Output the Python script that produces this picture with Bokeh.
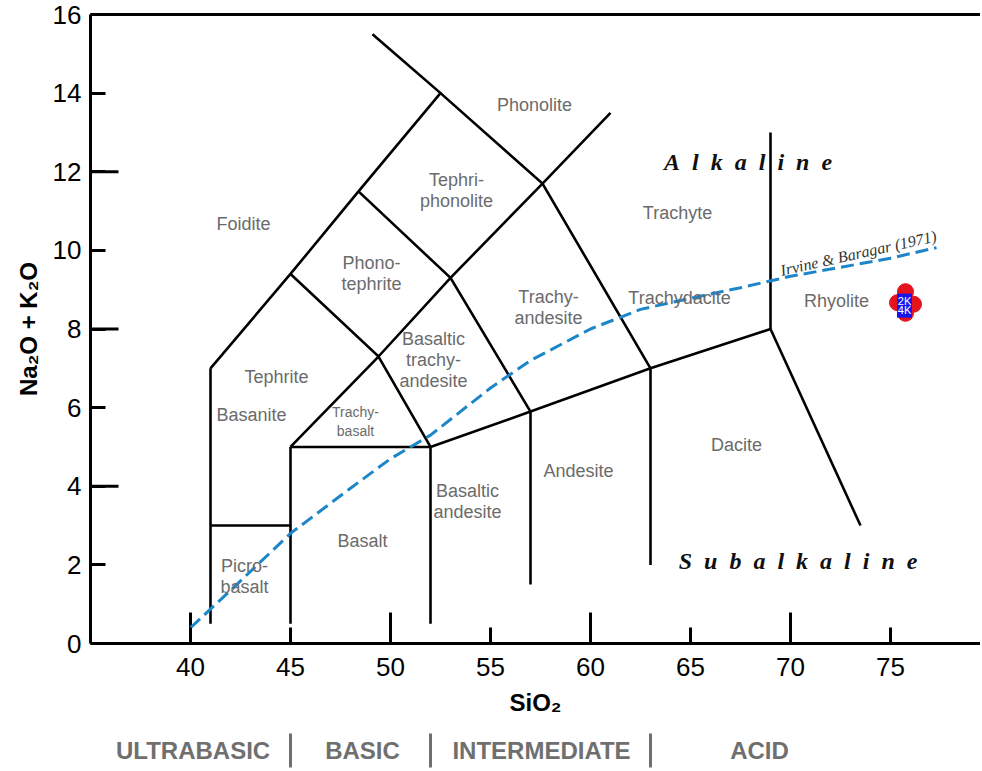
from bokeh.plotting import figure
from bokeh.layouts import column
from bokeh.models import LinearAxis, FixedTicker, Range1d, ColumnDataSource
from bokeh.core.properties import value
from bokeh.embed import file_html
from bokeh.resources import INLINE

# ---------------- data ----------------
x_ticks = [40, 45, 50, 55, 60, 65, 70, 75]
x_long_ticks = [40, 50, 60, 70]
y_ticks = [0, 2, 4, 6, 8, 10, 12, 14, 16]
y_long_ticks = [4, 8, 12]

# TAS field boundaries (SiO2, Na2O+K2O)
boundary_xs = [
    [41, 41], [41, 45], [45, 45], [52, 52], [57, 57], [63, 63],
    [45, 52], [52, 57, 63, 69], [69, 69], [69, 73.5],
    [41, 45, 48.4, 52.5, 49.1],
    [45, 49.4, 53, 57.6, 61],
    [48.4, 53, 57],
    [52.5, 57.6, 63],
    [45, 49.4, 52],
]
boundary_ys = [
    [0.5, 7], [3, 3], [0.5, 5], [0.5, 5], [1.5, 5.9], [2, 7],
    [5, 5], [5, 5.9, 7, 8], [8, 13], [8, 3],
    [7, 9.4, 11.5, 14, 15.5],
    [9.4, 7.3, 9.3, 11.7, 13.5],
    [11.5, 9.3, 5.9],
    [14, 11.7, 7],
    [5, 7.3, 5],
]

# Irvine & Baragar (1971) alkaline / subalkaline divide
ib_x = [40, 42, 45, 48, 50, 52, 55, 57, 60, 62.5, 65, 67.5, 70, 75, 77.3]
ib_y = [0.4, 1.35, 2.8, 3.95, 4.7, 5.3, 6.5, 7.2, 8.0, 8.5, 8.78, 9.05, 9.34, 9.8, 10.07]

# field names
field_names = ["Phonolite", "Foidite", "Tephri-\nphonolite", "Phono-\ntephrite", "Trachyte",
               "Trachy-\nandesite", "Trachydacite", "Rhyolite", "Basaltic\ntrachy-\nandesite",
               "Tephrite", "Basanite", "Dacite", "Andesite", "Basaltic\nandesite",
               "Basalt", "Picro-\nbasalt"]
field_x = [57.2, 42.65, 53.3, 49.05, 64.35, 57.9, 64.45, 72.3, 52.15,
           44.3, 43.05, 67.3, 59.4, 53.85, 48.6, 42.7]
field_y = [13.69, 10.68, 11.52, 9.41, 10.94, 8.55, 8.78, 8.70, 7.22,
           6.79, 5.80, 5.04, 4.40, 3.61, 2.62, 1.70]
small_field_names = ["Trachy-\nbasalt"]
small_field_x = [48.25]
small_field_y = [5.65]

# samples
circle_x = [75.75, 75.35, 76.15, 75.75]
circle_y = [8.95, 8.67, 8.63, 8.40]
square_x = [75.7, 75.7]
square_y = [8.71, 8.48]
square_labels = ["2K", "4K"]

# SiO2 classes
class_names = ["ULTRABASIC", "BASIC", "INTERMEDIATE", "ACID"]
class_centers = [40.13, 48.6, 57.55, 68.45]
class_bounds = [45, 52, 63]

# ---------------- main figure ----------------
PX_PER_Y = 629 / 16.0
PX_PER_X = 20.0
xr = Range1d(35, 79.5)

p = figure(width=980, height=730, x_range=xr, y_range=Range1d(0, 16),
           min_border_left=90, min_border_right=0, min_border_top=14, min_border_bottom=87,
           output_backend="svg", toolbar_location=None)
p.grid.visible = False
p.outline_line_color = None

xa = p.xaxis[0]
xa.ticker = FixedTicker(ticks=x_ticks)
xa.axis_line_width = 3
xa.major_tick_line_width = 3
xa.major_tick_in = 16
xa.major_tick_out = 0
xa.minor_tick_line_color = None
xa.major_label_text_font = "Liberation Sans"
xa.major_label_text_font_size = "26px"
xa.major_label_text_color = "black"
xa.major_label_standoff = 14
xa.axis_label = "SiO₂"
xa.axis_label_text_font = "Liberation Sans"
xa.axis_label_text_font_style = "bold"
xa.axis_label_text_font_size = "24px"
xa.axis_label_text_color = "black"
xa.axis_label_standoff = 10

ya = p.yaxis[0]
ya.ticker = FixedTicker(ticks=y_ticks)
ya.axis_line_width = 3
ya.major_tick_line_width = 3
ya.major_tick_in = 15
ya.major_tick_out = 0
ya.minor_tick_line_color = None
ya.major_label_text_font = "Liberation Sans"
ya.major_label_text_font_size = "26px"
ya.major_label_text_color = "black"
ya.major_label_standoff = 9
ya.axis_label = "Na₂O + K₂O"
ya.axis_label_text_font = "Liberation Sans"
ya.axis_label_text_font_style = "bold"
ya.axis_label_text_font_size = "24px"
ya.axis_label_text_color = "black"
ya.axis_label_standoff = 8

top = LinearAxis(ticker=FixedTicker(ticks=[]), axis_line_width=3,
                 major_tick_line_color=None, minor_tick_line_color=None,
                 major_tick_out=0, minor_tick_out=0, major_label_text_font_size="0px")
p.add_layout(top, "above")

# long ticks
p.segment(x0=x_long_ticks, y0=[0] * len(x_long_ticks), x1=x_long_ticks,
          y1=[31 / PX_PER_Y] * len(x_long_ticks), line_color="black", line_width=3)
p.segment(x0=[35] * len(y_long_ticks), y0=y_long_ticks, x1=[35 + 28 / PX_PER_X] * len(y_long_ticks),
          y1=y_long_ticks, line_color="black", line_width=3)

# boundaries
p.multi_line(xs=boundary_xs, ys=boundary_ys, line_color="black", line_width=2.6,
             line_join="miter")

# Irvine & Baragar
p.line(ib_x, ib_y, line_color="#1c86c9", line_width=3, line_dash="13 6")

# field labels
p.text(x=field_x, y=field_y, text=field_names, text_font=value("Liberation Sans"),
       text_font_size="18px", text_color="#6b6b6b", text_align="center",
       text_baseline="middle", text_line_height=1.05)
p.text(x=small_field_x, y=small_field_y, text=small_field_names, text_font=value("Liberation Sans"),
       text_font_size="14px", text_color="#6b6b6b", text_align="center",
       text_baseline="middle", text_line_height=1.15)

# series labels
p.text(x=[67.88], y=[12.24], text=["A\u2002l\u2002k\u2002a\u2002l\u2002i\u2002n\u2002e"],
       text_font=value("Liberation Serif"), text_font_style="bold italic",
       text_font_size="24px", text_color="#111111", text_align="center", text_baseline="middle")
p.text(x=[70.38], y=[2.11],
       text=["S\u2002u\u2002b\u2002a\u2002l\u2002k\u2002a\u2002l\u2002i\u2002n\u2002e"],
       text_font=value("Liberation Serif"), text_font_style="bold italic",
       text_font_size="24px", text_color="#111111", text_align="center", text_baseline="middle")
p.text(x=[73.4], y=[9.93], text=["Irvine & Baragar (1971)"], angle=0.22,
       text_font=value("Liberation Serif"), text_font_style="italic",
       text_font_size="16px", text_color="#333333", text_align="center", text_baseline="middle")

# samples
p.scatter(circle_x, circle_y, marker="circle", size=16, fill_color="#e5141c", line_color="#e5141c")
src = ColumnDataSource(dict(x=square_x, y=square_y, t=square_labels))
p.scatter("x", "y", source=src, marker="square", size=15, fill_color="#1515ee", line_color=None)
p.text("x", "y", text="t", source=src, text_color="white", text_font=value("Liberation Sans"),
       text_font_size="11px", text_align="center", text_baseline="middle")

# ---------------- SiO2 class strip ----------------
STRIP_H = 38
p2 = figure(width=980, height=STRIP_H, x_range=xr, y_range=Range1d(0, STRIP_H),
            min_border_left=90, min_border_right=0, min_border_top=0, min_border_bottom=0,
            output_backend="svg", toolbar_location=None)
p2.axis.visible = False
p2.grid.visible = False
p2.outline_line_color = None
p2.text(x=class_centers, y=[STRIP_H - 20] * len(class_centers), text=class_names,
        text_font=value("Liberation Sans"), text_font_style="bold",
        text_font_size="24px", text_color="#6f6f6f", text_align="center", text_baseline="middle")
p2.segment(x0=class_bounds, y0=[1] * len(class_bounds), x1=class_bounds,
           y1=[STRIP_H - 3] * len(class_bounds), line_color="#6f6f6f", line_width=3)

layout = column(p, p2, spacing=0)
open("out.html", "w").write(file_html(layout, INLINE))
